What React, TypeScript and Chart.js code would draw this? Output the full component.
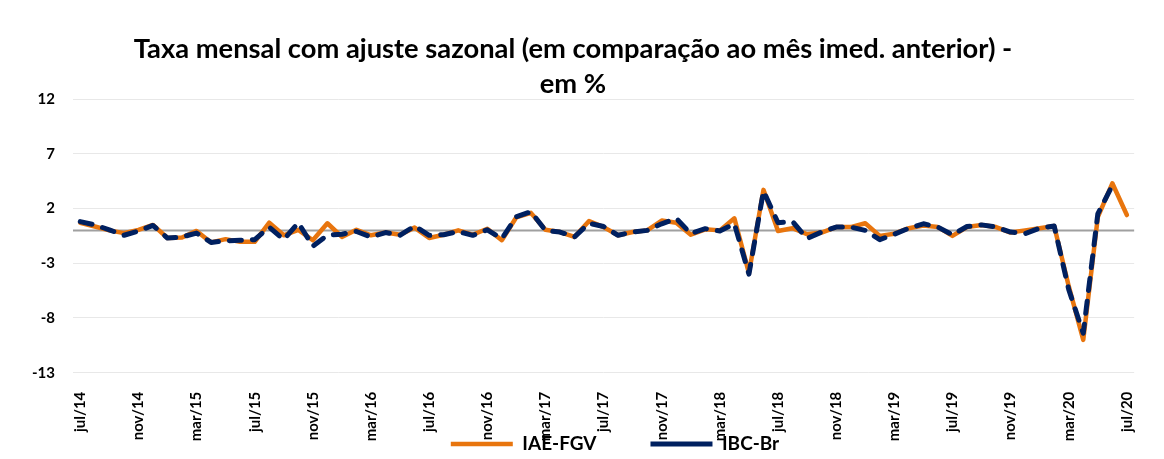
import { useEffect, useRef } from 'react';
import { Chart, registerables } from 'chart.js';

Chart.register(...registerables);

const categories = [
  'jul/14', 'ago/14', 'set/14', 'out/14', 'nov/14', 'dez/14',
  'jan/15', 'fev/15', 'mar/15', 'abr/15', 'mai/15', 'jun/15', 'jul/15', 'ago/15', 'set/15', 'out/15', 'nov/15', 'dez/15',
  'jan/16', 'fev/16', 'mar/16', 'abr/16', 'mai/16', 'jun/16', 'jul/16', 'ago/16', 'set/16', 'out/16', 'nov/16', 'dez/16',
  'jan/17', 'fev/17', 'mar/17', 'abr/17', 'mai/17', 'jun/17', 'jul/17', 'ago/17', 'set/17', 'out/17', 'nov/17', 'dez/17',
  'jan/18', 'fev/18', 'mar/18', 'abr/18', 'mai/18', 'jun/18', 'jul/18', 'ago/18', 'set/18', 'out/18', 'nov/18', 'dez/18',
  'jan/19', 'fev/19', 'mar/19', 'abr/19', 'mai/19', 'jun/19', 'jul/19', 'ago/19', 'set/19', 'out/19', 'nov/19', 'dez/19',
  'jan/20', 'fev/20', 'mar/20', 'abr/20', 'mai/20', 'jun/20', 'jul/20',
];

const iaeFgv = [
  0.7, 0.35, 0.0, -0.25, 0.05, 0.5,
  -0.7, -0.65, -0.05, -1.1, -0.8, -1.05, -1.05, 0.7, -0.45, 0.05, -0.9, 0.65,
  -0.6, 0.05, -0.45, -0.2, -0.4, 0.25, -0.7, -0.4, 0.0, -0.4, 0.15, -0.9,
  1.2, 1.6, 0.05, -0.15, -0.6, 0.85, 0.3, -0.45, -0.15, 0.0, 0.9, 0.7,
  -0.4, 0.1, 0.0, 1.1, -3.9, 3.7, -0.05, 0.2, -0.35, -0.2, 0.3, 0.3,
  0.65, -0.5, -0.3, 0.2, 0.45, 0.3, -0.5, 0.3, 0.5, 0.3, -0.2, 0.0,
  0.2, 0.4, -5.1, -10.0, 1.2, 4.3, 1.4,
];

const ibcBr = [
  0.8, 0.5, 0.05, -0.45, -0.05, 0.45,
  -0.7, -0.6, -0.25, -1.1, -0.95, -0.9, -0.85, 0.3, -0.85, 0.7, -1.45, -0.45,
  -0.35, -0.1, -0.6, -0.2, -0.45, 0.4, -0.45, -0.4, -0.1, -0.45, 0.05, -0.75,
  1.25, 1.7, 0.0, -0.15, -0.6, 0.65, 0.35, -0.45, -0.15, 0.0, 0.6, 1.1,
  -0.3, 0.15, -0.05, 0.6, -4.0, 3.6, 0.7, 0.8, -0.75, -0.15, 0.3, 0.3,
  0.0, -0.85, -0.35, 0.2, 0.6, 0.3, -0.4, 0.35, 0.5, 0.3, -0.15, -0.3,
  0.2, 0.4, -5.4, -9.4, 1.5, 4.1, null,
];

const seriesNames = ['IAE-FGV', 'IBC-Br'];
const titleLines = ['Taxa mensal com ajuste sazonal (em comparação ao mês imed. anterior) -', 'em %'];
const yMin = -13;
const yMax = 12;
const yStep = 5;
const labelEvery = 4;

const CANVAS_W = 1148;
const CANVAS_H = 443;
const LEGEND_PAD = 54;
const LEGEND_FONT = 19;
const LEGEND_BOX_H = 5;
const LEGEND_CENTER_Y = 436;
const LEGEND_SHIFT_X = 42;
const PLOT_BOTTOM = 364.7;
const FONT = 'Lato';

export default function App() {
  const ref = useRef<HTMLCanvasElement>(null);

  useEffect(() => {
    if (!ref.current) return;

    const zeroLine = {
      id: 'zeroLine',
      beforeDatasetsDraw(chart: any) {
        const { ctx, chartArea, scales } = chart;
        const y = scales.y.getPixelForValue(0);
        ctx.save();
        ctx.strokeStyle = '#a0a0a0';
        ctx.lineWidth = 2;
        ctx.beginPath();
        ctx.moveTo(chartArea.left, y);
        ctx.lineTo(chartArea.right, y);
        ctx.stroke();
        ctx.restore();
      },
    };

    const legendPlace = {
      id: 'legendPlace',
      afterLayout(chart: any) {
        const lg = chart.legend;
        if (lg) {
          lg.left += LEGEND_SHIFT_X;
          lg.right += LEGEND_SHIFT_X;
          lg.top = LEGEND_CENTER_Y - LEGEND_PAD - LEGEND_FONT / 2;
          lg.bottom = CANVAS_H;
          lg.height = lg.bottom - lg.top;
        }
      },
    };

    const chart = new Chart(ref.current, {
      type: 'line',
      data: {
        labels: categories,
        datasets: [
          {
            label: seriesNames[0],
            data: iaeFgv,
            borderColor: '#E8750E',
            backgroundColor: '#E8750E',
            borderWidth: 4.5,
            pointRadius: 0,
            borderCapStyle: 'round',
            borderJoinStyle: 'round',
            tension: 0,
            order: 1,
          },
          {
            label: seriesNames[1],
            data: ibcBr,
            borderColor: '#002060',
            backgroundColor: '#002060',
            borderWidth: 5,
            borderDash: [12, 11],
            pointRadius: 0,
            borderCapStyle: 'round',
            borderJoinStyle: 'round',
            tension: 0,
            order: 0,
          },
        ],
      },
      options: {
        responsive: false,
        animation: false,
        layout: { padding: { left: 0, right: 18, top: 0, bottom: 0 } },
        plugins: {
          title: {
            display: true,
            text: titleLines,
            color: '#000',
            font: { family: FONT, size: 27.3, weight: 'bold', lineHeight: '35px' },
            padding: { top: 24, bottom: -3 },
          },
          legend: {
            display: true,
            position: 'bottom',
            maxHeight: LEGEND_BOX_H,
            labels: {
              usePointStyle: true,
              pointStyle: 'line',
              pointStyleWidth: 62,
              padding: LEGEND_PAD,
              color: '#000',
              font: { family: FONT, size: LEGEND_FONT, weight: 'bold' },
              sort: (a: any, b: any) => a.datasetIndex - b.datasetIndex,
            },
          },
          tooltip: { enabled: false },
        },
        scales: {
          x: {
            type: 'category',
            offset: true,
            grid: { display: false },
            border: { display: false },
            ticks: {
              autoSkip: false,
              maxRotation: 90,
              minRotation: 90,
              padding: 11,
              color: '#000',
              font: { family: FONT, size: 15, weight: 'bold' },
              callback: (_v: any, i: number) => (i % labelEvery === 0 ? categories[i] : ''),
            },
            afterFit: (s: any) => {
              s.height = CANVAS_H - LEGEND_BOX_H - PLOT_BOTTOM;
            },
          },
          y: {
            min: yMin,
            max: yMax,
            grid: { color: '#e8e8e8', lineWidth: 1, drawTicks: false },
            border: { display: false },
            ticks: {
              stepSize: yStep,
              padding: 18,
              color: '#000',
              font: { family: FONT, size: 15, weight: 'bold' },
            },
            afterFit: (s: any) => {
              s.width = 65;
            },
          },
        },
      },
      plugins: [zeroLine, legendPlace],
    } as any);

    return () => chart.destroy();
  }, []);

  return (
    <div style={{ width: CANVAS_W, height: CANVAS_H }}>
      <canvas ref={ref} width={CANVAS_W} height={CANVAS_H} style={{ display: 'block' }} />
    </div>
  );
}
